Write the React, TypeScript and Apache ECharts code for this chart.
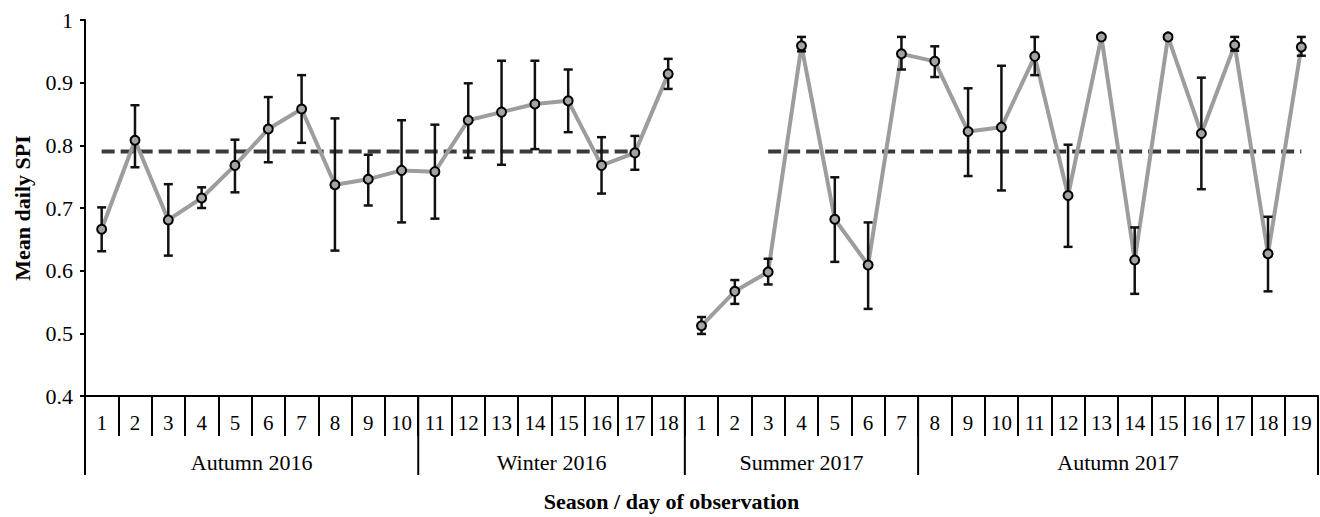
import React, { useEffect, useRef } from 'react';
import * as echarts from 'echarts';

// ---- data ----
const days2016 = ['1', '2', '3', '4', '5', '6', '7', '8', '9', '10', '11', '12', '13', '14', '15', '16', '17', '18'];
const days2017 = ['1', '2', '3', '4', '5', '6', '7', '8', '9', '10', '11', '12', '13', '14', '15', '16', '17', '18', '19'];

const seasonNames = ['Autumn 2016', 'Winter 2016', 'Summer 2017', 'Autumn 2017'];
const seasonStart = [0, 10, 18, 25];
const seasonEnd = [10, 18, 25, 37];

const mean2016 = [0.666, 0.808, 0.681, 0.716, 0.768, 0.826, 0.858, 0.737, 0.746, 0.760, 0.758, 0.840, 0.853, 0.866, 0.871, 0.768, 0.788, 0.914];
const low2016 = [0.631, 0.765, 0.624, 0.700, 0.725, 0.773, 0.804, 0.632, 0.704, 0.677, 0.683, 0.780, 0.769, 0.794, 0.821, 0.723, 0.761, 0.890];
const high2016 = [0.701, 0.864, 0.738, 0.733, 0.809, 0.877, 0.912, 0.843, 0.785, 0.840, 0.833, 0.899, 0.935, 0.935, 0.921, 0.813, 0.815, 0.938];

const mean2017 = [0.512, 0.567, 0.598, 0.959, 0.682, 0.609, 0.946, 0.934, 0.822, 0.829, 0.942, 0.720, 0.973, 0.617, 0.973, 0.819, 0.960, 0.627, 0.957];
const low2017 = [0.499, 0.547, 0.578, 0.950, 0.614, 0.539, 0.921, 0.909, 0.751, 0.728, 0.912, 0.638, 0.970, 0.563, 0.970, 0.730, 0.951, 0.567, 0.943];
const high2017 = [0.526, 0.585, 0.619, 0.973, 0.749, 0.677, 0.973, 0.958, 0.891, 0.927, 0.973, 0.801, 0.976, 0.669, 0.976, 0.908, 0.973, 0.686, 0.973];

const overallMean2016 = 0.79;
const overallMean2017 = 0.79;
const meanRange2016 = [0, 16];
const meanRange2017 = [20, 36];

const yTicks = { min: 0.4, max: 1, interval: 0.1 };

const FONT = '"Liberation Serif", "Times New Roman", serif';

export default function App() {
  const ref = useRef<HTMLDivElement>(null);

  useEffect(() => {
    if (!ref.current) return;
    const chart = echarts.init(ref.current, undefined, { renderer: 'svg' });

    const dayLabels = [...days2016, ...days2017];
    const categories = dayLabels.map((d, i) => `${i}:${d}`);
    const n1 = days2016.length;
    const means = [...mean2016, ...mean2017];
    const lows = [...low2016, ...low2017];
    const highs = [...high2016, ...high2017];

    const line1 = categories.map((_, i) => (i < n1 ? means[i] : '-'));
    const line2 = categories.map((_, i) => (i >= n1 ? means[i] : '-'));
    const dash1 = categories.map((_, i) => (i >= meanRange2016[0] && i <= meanRange2016[1] ? overallMean2016 : '-'));
    const dash2 = categories.map((_, i) => (i >= meanRange2017[0] && i <= meanRange2017[1] ? overallMean2017 : '-'));
    const errData = means.map((_, i) => [i, lows[i], highs[i]]);
    const markerData = means.map((v, i) => [i, v]);
    const seasonData = seasonNames.map((_, i) => [seasonStart[i], yTicks.min, seasonEnd[i]]);

    const lineStyleGray = { color: '#9d9d9d', width: 4 };

    chart.setOption({
      animation: false,
      grid: { left: 85, right: 2, top: 20, bottom: 114, containLabel: false },
      xAxis: {
        type: 'category',
        data: categories,
        boundaryGap: true,
        axisLine: { show: true, lineStyle: { color: '#000', width: 2 } },
        axisTick: { show: true, interval: 0, length: 40, lineStyle: { color: '#000', width: 2 } },
        axisLabel: {
          interval: 0,
          formatter: (v: string) => v.split(':')[1],
          color: '#000',
          fontFamily: FONT,
          fontSize: 21,
          margin: 16,
        },
        name: 'Season / day of observation',
        nameLocation: 'middle',
        nameGap: 94,
        nameTextStyle: {
          fontFamily: FONT,
          fontWeight: 'bold',
          fontSize: 22,
          color: '#000',
          padding: [0, 60, 0, 0],
        },
      },
      yAxis: {
        type: 'value',
        min: yTicks.min,
        max: yTicks.max,
        interval: yTicks.interval,
        splitLine: { show: false },
        axisLine: { show: true, lineStyle: { color: '#000', width: 2 } },
        axisTick: { show: true, length: 5, lineStyle: { color: '#000', width: 2 } },
        axisLabel: {
          formatter: (v: number) => String(Math.round(v * 10) / 10),
          color: '#000',
          fontFamily: FONT,
          fontSize: 22,
          margin: 12,
        },
        name: 'Mean daily SPI',
        nameLocation: 'middle',
        nameGap: 52,
        nameRotate: 90,
        nameTextStyle: { fontFamily: FONT, fontWeight: 'bold', fontSize: 22, color: '#000' },
      },
      series: [
        {
          type: 'line',
          data: dash1,
          showSymbol: false,
          symbol: 'none',
          z: 1,
          lineStyle: { color: '#3a3a3a', width: 4, type: [13, 6] },
        },
        {
          type: 'line',
          data: dash2,
          showSymbol: false,
          symbol: 'none',
          z: 1,
          lineStyle: { color: '#3a3a3a', width: 4, type: [13, 6] },
        },
        { type: 'line', data: line1, symbol: 'none', z: 2, lineStyle: lineStyleGray },
        { type: 'line', data: line2, symbol: 'none', z: 2, lineStyle: lineStyleGray },
        {
          type: 'custom',
          z: 3,
          silent: true,
          encode: { x: 0, y: [1, 2] },
          data: errData,
          renderItem: (params: any, api: any) => {
            const x = api.value(0);
            const lo = api.coord([x, api.value(1)]);
            const hi = api.coord([x, api.value(2)]);
            const h = 4.5;
            const st = { stroke: '#111', lineWidth: 2.5 };
            return {
              type: 'group',
              children: [
                { type: 'line', shape: { x1: lo[0], y1: lo[1], x2: hi[0], y2: hi[1] }, style: st },
                { type: 'line', shape: { x1: lo[0] - h, y1: lo[1], x2: lo[0] + h, y2: lo[1] }, style: st },
                { type: 'line', shape: { x1: hi[0] - h, y1: hi[1], x2: hi[0] + h, y2: hi[1] }, style: st },
              ],
            };
          },
        },
        {
          type: 'scatter',
          data: markerData,
          z: 4,
          symbol: 'circle',
          symbolSize: 9,
          itemStyle: { color: '#a3a3a3', borderColor: '#000', borderWidth: 2, opacity: 1 },
        },
        {
          type: 'custom',
          z: 5,
          silent: true,
          clip: false,
          encode: { x: 0, y: 1 },
          data: seasonData,
          renderItem: (params: any, api: any) => {
            const i = params.dataIndex;
            const s = api.value(0);
            const e = api.value(2);
            const bw = api.size([1, 0])[0];
            const p0 = api.coord([s, yTicks.min]);
            const p1 = api.coord([e - 1, yTicks.min]);
            const x0 = p0[0] - bw / 2;
            const x1 = p1[0] + bw / 2;
            const y0 = p0[1];
            const st = { stroke: '#000', lineWidth: 2 };
            const children: any[] = [
              { type: 'line', shape: { x1: x0, y1: y0, x2: x0, y2: y0 + 79 }, style: st },
              {
                type: 'text',
                x: (x0 + x1) / 2,
                y: y0 + 66,
                style: {
                  text: seasonNames[i],
                  fill: '#000',
                  fontFamily: FONT,
                  fontSize: 22,
                  align: 'center',
                  verticalAlign: 'middle',
                },
              },
            ];
            if (i === seasonNames.length - 1) {
              children.push({ type: 'line', shape: { x1: x1, y1: y0, x2: x1, y2: y0 + 79 }, style: st });
            }
            return { type: 'group', children };
          },
        },
      ],
    });

    return () => chart.dispose();
  }, []);

  return (
    <div
      ref={ref}
      style={{ position: 'fixed', left: 0, top: 0, width: 1320, height: 517, background: '#fff' }}
    />
  );
}
